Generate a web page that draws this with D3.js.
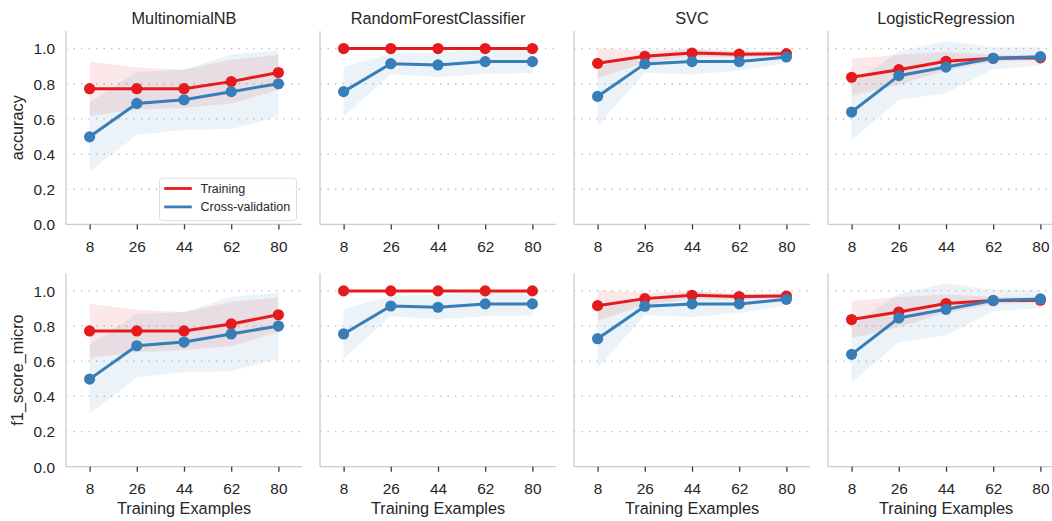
<!DOCTYPE html>
<html>
<head>
<meta charset="utf-8">
<script src="https://cdn.jsdelivr.net/npm/d3@7"></script>
<style>
  html, body { margin: 0; padding: 0; background: #fff; }
  svg { display: block; font-family: "Liberation Sans", Arial, sans-serif; }
</style>
</head>
<body>
<svg id="chart" width="1052" height="521"></svg>
<script>
// ---------- data ----------
const models = ["MultinomialNB", "RandomForestClassifier", "SVC", "LogisticRegression"];
const metrics = ["accuracy", "f1_score_micro"];
const trainSizes = [8, 26, 44, 62, 80];
const yTicks = [0.0, 0.2, 0.4, 0.6, 0.8, 1.0];
const gridTicks = [0.2, 0.4, 0.6, 0.8, 1.0];
const seriesNames = ["Training", "Cross-validation"];

// MultinomialNB
const nbTrainMean = [0.772, 0.772, 0.772, 0.812, 0.864];
const nbTrainStd  = [0.154, 0.120, 0.108, 0.125, 0.099];
const nbCvMean    = [0.498, 0.688, 0.709, 0.755, 0.800];
const nbCvStd     = [0.195, 0.180, 0.170, 0.212, 0.188];
// RandomForestClassifier
const rfTrainMean = [1.000, 1.000, 1.000, 1.000, 1.000];
const rfTrainStd  = [0.000, 0.000, 0.000, 0.000, 0.000];
const rfCvMean    = [0.755, 0.914, 0.907, 0.926, 0.926];
const rfCvStd     = [0.140, 0.058, 0.069, 0.070, 0.065];
// SVC
const svcTrainMean = [0.916, 0.956, 0.975, 0.968, 0.971];
const svcTrainStd  = [0.086, 0.035, 0.022, 0.020, 0.012];
const svcCvMean    = [0.728, 0.913, 0.926, 0.926, 0.952];
const svcCvStd     = [0.167, 0.050, 0.074, 0.051, 0.034];
// LogisticRegression
const lrTrainMean = [0.837, 0.880, 0.928, 0.945, 0.947];
const lrTrainStd  = [0.105, 0.085, 0.052, 0.020, 0.012];
const lrCvMean    = [0.639, 0.846, 0.895, 0.945, 0.954];
const lrCvStd     = [0.162, 0.138, 0.148, 0.062, 0.052];

// micro-averaged F1 equals accuracy for this single-label task -> same values
const scores = {
  accuracy: [
    [nbTrainMean, nbTrainStd, nbCvMean, nbCvStd],
    [rfTrainMean, rfTrainStd, rfCvMean, rfCvStd],
    [svcTrainMean, svcTrainStd, svcCvMean, svcCvStd],
    [lrTrainMean, lrTrainStd, lrCvMean, lrCvStd]
  ],
  f1_score_micro: [
    [nbTrainMean, nbTrainStd, nbCvMean, nbCvStd],
    [rfTrainMean, rfTrainStd, rfCvMean, rfCvStd],
    [svcTrainMean, svcTrainStd, svcCvMean, svcCvStd],
    [lrTrainMean, lrTrainStd, lrCvMean, lrCvStd]
  ]
};

// ---------- layout ----------
const colors = ["#e41a1c", "#377eb8"];
const textColor = "#262626";
const panelW = 236, panelH = 193.4;
const left0 = 66, colStep = 254;
const top0 = 31, rowStep = 242.3;

const svg = d3.select("#chart");

const x = d3.scalePoint().domain(trainSizes).range([0, panelW]).padding(0.5);
const y = d3.scaleLinear().domain([0, 1.1]).range([panelH, 0]);

metrics.forEach((metric, r) => {
  models.forEach((model, c) => {
    const g = svg.append("g")
      .attr("transform", `translate(${left0 + c * colStep},${top0 + r * rowStep})`);

    // grid
    g.append("g").selectAll("line").data(gridTicks).join("line")
      .attr("x1", 0).attr("x2", panelW)
      .attr("y1", d => y(d)).attr("y2", d => y(d))
      .attr("stroke", "#b8b8b8").attr("stroke-width", 1.3)
      .attr("stroke-dasharray", "1.3 6.2");

    const [trM, trS, cvM, cvS] = scores[metric][c];
    const sets = [[trM, trS], [cvM, cvS]];

    const area = d3.area()
      .x((d, i) => x(trainSizes[i]))
      .y0(d => y(d[0] - d[1]))
      .y1(d => y(d[0] + d[1]));
    const line = d3.line()
      .x((d, i) => x(trainSizes[i]))
      .y(d => y(d));

    // bands
    sets.forEach(([m, s], k) => {
      g.append("path")
        .datum(m.map((v, i) => [v, s[i]]))
        .attr("d", area)
        .attr("fill", colors[k]).attr("fill-opacity", 0.1);
    });
    // lines & markers
    sets.forEach(([m], k) => {
      g.append("path").datum(m).attr("d", line)
        .attr("fill", "none").attr("stroke", colors[k]).attr("stroke-width", 3);
      g.append("g").selectAll("circle").data(m).join("circle")
        .attr("cx", (d, i) => x(trainSizes[i])).attr("cy", d => y(d))
        .attr("r", 5.6).attr("fill", colors[k]);
    });

    // spines
    g.append("line").attr("x1", 0).attr("x2", 0).attr("y1", 0).attr("y2", panelH)
      .attr("stroke", "#cccccc").attr("stroke-width", 1.3);
    g.append("line").attr("x1", 0).attr("x2", panelW).attr("y1", panelH).attr("y2", panelH)
      .attr("stroke", "#cccccc").attr("stroke-width", 1.3);

    // x axis ticks
    const xa = g.append("g").attr("transform", `translate(0,${panelH})`)
      .call(d3.axisBottom(x).tickSize(5).tickPadding(0).tickFormat(d3.format("d")));
    xa.select(".domain").remove();
    xa.selectAll(".tick line").attr("stroke", "#3a3a3a").attr("stroke-width", 1.3);
    xa.selectAll(".tick text").attr("y", 27.4).attr("dy", null)
      .attr("fill", textColor).style("font-size", "15.4px").style("font-family", "Liberation Sans, Arial, sans-serif");

    // y axis labels (first column only)
    if (c === 0) {
      const ya = g.append("g")
        .call(d3.axisLeft(y).tickValues(yTicks).tickSize(0).tickPadding(11).tickFormat(d3.format(".1f")));
      ya.select(".domain").remove();
      ya.selectAll(".tick text").attr("dy", "0.35em")
        .attr("fill", textColor).style("font-size", "15.4px").style("font-family", "Liberation Sans, Arial, sans-serif");
      g.append("text")
        .attr("transform", `translate(${23 - left0},${panelH / 2}) rotate(-90)`)
        .attr("text-anchor", "middle")
        .attr("fill", textColor).style("font-size", "16.3px")
        .text(metric);
    }

    // titles (top row)
    if (r === 0) {
      g.append("text").attr("x", panelW / 2).attr("y", -7.3)
        .attr("text-anchor", "middle").attr("fill", textColor)
        .style("font-size", "16.3px").text(model);
    }
    // x label (bottom row)
    if (r === metrics.length - 1) {
      g.append("text").attr("x", panelW / 2).attr("y", panelH + 47.4)
        .attr("text-anchor", "middle").attr("fill", textColor)
        .style("font-size", "16.3px").text("Training Examples");
    }

    // legend
    if (r === 0 && c === 0) {
      const lg = g.append("g").attr("transform", "translate(93.5,147.3)");
      lg.append("rect").attr("width", 137).attr("height", 42.4).attr("rx", 3)
        .attr("fill", "#fff").attr("fill-opacity", 0.8)
        .attr("stroke", "#dddddd").attr("stroke-width", 1);
      seriesNames.forEach((name, k) => {
        const yy = 10.2 + k * 18.4;
        lg.append("line").attr("x1", 4.7).attr("x2", 32.3).attr("y1", yy).attr("y2", yy)
          .attr("stroke", colors[k]).attr("stroke-width", 2.8);
        lg.append("text").attr("x", 41).attr("y", yy).attr("dy", "0.35em")
          .attr("fill", textColor).style("font-size", "12.5px").text(name);
      });
    }
  });
});
</script>
</body>
</html>
